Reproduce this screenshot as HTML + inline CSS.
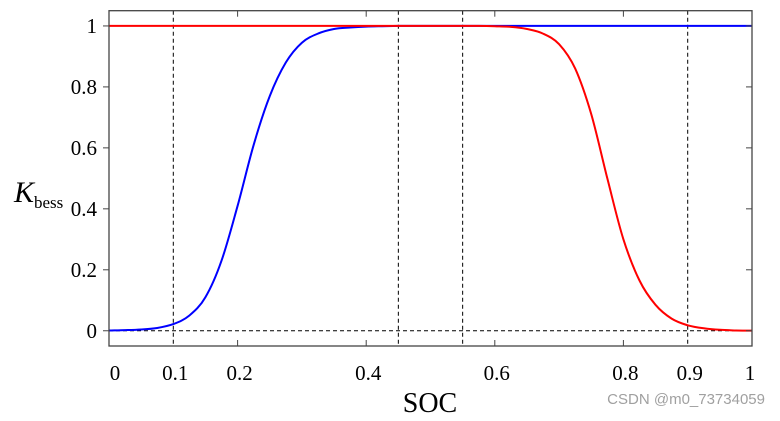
<!DOCTYPE html>
<html><head><meta charset="utf-8"><style>
body{margin:0;background:#fff;width:780px;height:416px;overflow:hidden}
</style></head><body>
<svg id="chart" width="780" height="416" xmlns="http://www.w3.org/2000/svg" style="font-family:'Liberation Serif',serif"></svg>
<script>
const xTicks=[0,0.2,0.4,0.6,0.8,1];
const xLabels=[0,0.1,0.2,0.4,0.6,0.8,0.9,1];
const yTicks=[0,0.2,0.4,0.6,0.8,1];
const yLabels=["0","0.2","0.4","0.6","0.8","1"];
const vLines=[0.1,0.45,0.55,0.9];
const socValues=[0,0.025,0.05,0.075,0.1,0.125,0.15,0.175,0.2,0.225,0.25,0.275,0.3,0.325,0.35,0.375,0.4,0.425,0.45,0.475,0.5,0.525,0.55,0.575,0.6,0.625,0.65,0.675,0.7,0.725,0.75,0.775,0.8,0.825,0.85,0.875,0.9,0.925,0.95,0.975,1];
const blueValues=[0.001,0.002,0.004,0.009,0.022,0.05,0.11,0.23,0.41,0.61,0.77,0.88,0.945,0.975,0.99,0.995,0.998,0.999,1,1,1,1,1,1,1,1,1,1,1,1,1,1,1,1,1,1,1,1,1,1,1];
const redValues=[1,1,1,1,1,1,1,1,1,1,1,1,1,1,1,1,1,1,1,1,1,1,1,1,0.999,0.997,0.99,0.975,0.94,0.86,0.71,0.5,0.3,0.165,0.085,0.04,0.018,0.008,0.003,0.001,0.0005];
const X0=109,X1=752,YT=10.7,YB=346;
const xs=v=>X0+v*(X1-X0);
const ys=v=>YB-(v+0.05)/1.1*(YB-YT);
const svg=document.getElementById('chart');
const NS='http://www.w3.org/2000/svg';
function mk(tag,attrs,parent){const e=document.createElementNS(NS,tag);for(const k in attrs)e.setAttribute(k,attrs[k]);(parent||svg).appendChild(e);return e;}
let e=mk('line',{x1:X0,x2:X1,y1:ys(0),y2:ys(0),stroke:'#000','stroke-width':1,'stroke-dasharray':'4,3'});


vLines.forEach(v=>{const l=mk('line',{x1:xs(v),x2:xs(v),y1:YT,y2:YB,stroke:'#000','stroke-width':1,'stroke-dasharray':'4,3'});

});
function path(vals,color,name){
const P=socValues.map((s,i)=>[xs(s),ys(vals[i])]);
let d='M'+P[0][0].toFixed(1)+','+P[0][1].toFixed(1);
for(let i=0;i<P.length-1;i++){const p0=P[Math.max(0,i-1)],p1=P[i],p2=P[i+1],p3=P[Math.min(P.length-1,i+2)];
const c1=[p1[0]+(p2[0]-p0[0])/6,p1[1]+(p2[1]-p0[1])/6],c2=[p2[0]-(p3[0]-p1[0])/6,p2[1]-(p3[1]-p1[1])/6];
d+='C'+c1.map(n=>n.toFixed(1)).join(',')+' '+c2.map(n=>n.toFixed(1)).join(',')+' '+p2.map(n=>n.toFixed(1)).join(',');}
const p=mk('path',{d:d,fill:'none',stroke:color,'stroke-width':2});

}
path(blueValues,'#0000ff','discharge-curve');
path(redValues,'#ff0000','charge-curve');
e=mk('rect',{x:X0,y:YT,width:X1-X0,height:YB-YT,fill:'none',stroke:'#444','stroke-width':1.3});


xTicks.forEach(v=>{mk('line',{x1:xs(v),x2:xs(v),y1:YB,y2:YB-6,stroke:'#444'});mk('line',{x1:xs(v),x2:xs(v),y1:YT,y2:YT+6,stroke:'#444'});});
yTicks.forEach((v,i)=>{mk('line',{x1:X0,x2:X0-6,y1:ys(v),y2:ys(v),stroke:'#444'});mk('line',{x1:X1,x2:X1-6,y1:ys(v),y2:ys(v),stroke:'#444'});
const t=mk('text',{x:X0-12,y:ys(v)+7,'text-anchor':'end','font-size':21});t.textContent=yLabels[i];

});
xLabels.forEach(v=>{const t=mk('text',{x:xs(v)+(v===0?6:v===1?-2:2),y:380,'text-anchor':'middle','font-size':21});t.textContent=String(v);

});
</script>
<svg style="position:absolute;left:0;top:0;font-family:'Liberation Serif',serif" width="780" height="416">
<text x="430" y="412" text-anchor="middle" font-size="28">SOC</text>
<text x="14" y="202" font-size="30" font-style="italic">K<tspan font-style="normal" font-size="17" dy="6">bess</tspan></text>
<text x="765" y="404" text-anchor="end" font-size="15" fill="#a0a0a0" style="font-family:'Liberation Sans',sans-serif">CSDN @m0_73734059</text>
</svg>
</body></html>
